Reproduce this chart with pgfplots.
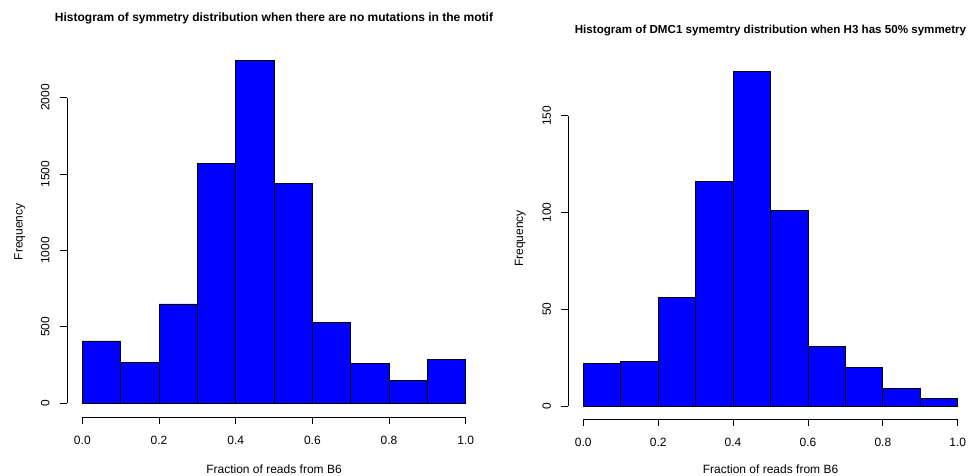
\documentclass[border=0pt]{standalone}
\usepackage{pgfplots}
\pgfplotsset{compat=1.18}
\usepackage{fontspec}
\setmainfont{Liberation Sans}
\begin{document}
\begin{tikzpicture}[x=1pt,y=1pt]
\useasboundingbox (0,0) rectangle (968,475);
\pgfplotsset{rstyle/.style={
  anchor=south west, scale only axis, clip=false,
  axis line style={draw=none},
  tick align=outside, major tick length=7pt,
  xtick pos=bottom, ytick pos=left,
  tick style={black, line width=0.8pt},
  xtick={0,0.2,0.4,0.6,0.8,1},
  xmin=-0.04, xmax=1.04,
  /pgf/number format/assume math mode=true,
  /pgf/number format/1000 sep={},
  xticklabel style={/pgf/number format/fixed, /pgf/number format/fixed zerofill, /pgf/number format/precision=1},
  ticklabel style={font=\fontsize{12}{14}\selectfont},
  yticklabel style={xshift=-10.5pt, rotate=90, anchor=base, inner sep=0pt},
  xticklabel style={yshift=-20pt, anchor=base, inner sep=0pt},
}}
% Left histogram
\begin{axis}[rstyle, at={(67pt,58pt)}, width=414.1pt, height=370.4pt,
  ymin=-89.76, ymax=2333.76, ytick={0,500,1000,1500,2000}]
\addplot[ybar interval, fill=blue, draw=black, line width=0.8pt] coordinates {
(0,408) (0.1,270) (0.2,650) (0.3,1570) (0.4,2244) (0.5,1437) (0.6,530) (0.7,262) (0.8,148) (0.9,286) (1,286)};
\draw[line width=0.8pt] (axis cs:0,-89.76) -- (axis cs:1,-89.76);
\draw[line width=0.8pt] (axis cs:-0.04,0) -- (axis cs:-0.04,2000);
\end{axis}
% Right histogram
\begin{axis}[rstyle, at={(568.3pt,55.6pt)}, width=404.4pt, height=361.6pt,
  ymin=-6.92, ymax=179.92, ytick={0,50,100,150}]
\addplot[ybar interval, fill=blue, draw=black, line width=0.8pt] coordinates {
(0,22) (0.1,23) (0.2,56) (0.3,116) (0.4,173) (0.5,101) (0.6,31) (0.7,20) (0.8,9) (0.9,4) (1,4)};
\draw[line width=0.8pt] (axis cs:0,-6.92) -- (axis cs:1,-6.92);
\draw[line width=0.8pt] (axis cs:-0.04,0) -- (axis cs:-0.04,150);
\end{axis}
% Titles and labels
\node[anchor=base, inner sep=0pt, font=\bfseries\fontsize{12}{14}\selectfont] at (274,453.3) {Histogram of symmetry distribution when there are no mutations in the motif};
\node[anchor=base, inner sep=0pt, font=\bfseries\fontsize{11.6}{14}\selectfont] at (770.5,441.7) {Histogram of DMC1 symemtry distribution when H3 has 50\% symmetry};
\node[anchor=base, inner sep=0pt, font=\fontsize{12}{14}\selectfont] at (274,1.5) {Fraction of reads from B6};
\node[anchor=base, inner sep=0pt, font=\fontsize{12}{14}\selectfont] at (770.5,1.5) {Fraction of reads from B6};
\node[anchor=base, inner sep=0pt, rotate=90, font=\fontsize{12}{14}\selectfont] at (22.5,243.2) {Frequency};
\node[anchor=base, inner sep=0pt, rotate=90, font=\fontsize{12}{14}\selectfont] at (523,236.4) {Frequency};
\end{tikzpicture}
\end{document}
